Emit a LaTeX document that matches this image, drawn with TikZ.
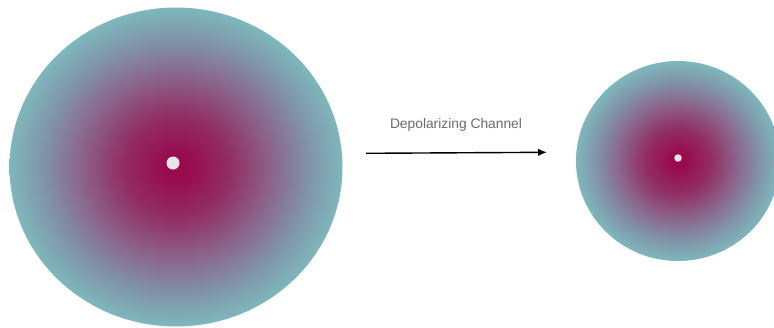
\documentclass[tikz,border=0pt]{standalone}
\usepackage{fontspec}
\setmainfont{Liberation Sans}
\usetikzlibrary{shapes.geometric,arrows.meta}
\definecolor{crim}{HTML}{980C4E}
\definecolor{crimb}{HTML}{912E62}
\definecolor{midc}{HTML}{8A6A8F}
\definecolor{bluec}{HTML}{8094A8}
\definecolor{tealc}{HTML}{7EB7BC}
\definecolor{dotc}{HTML}{E6E6E6}
\definecolor{labc}{HTML}{6A6A6A}
\pgfdeclareradialshading{blob}{\pgfpoint{0bp}{0bp}}{color(0bp)=(crim); color(2bp)=(crim); color(8bp)=(crimb); color(15bp)=(midc); color(20bp)=(bluec); color(25bp)=(tealc); color(50bp)=(tealc)}
\tikzset{
  blobshape/.style={ellipse, draw=none, shading=blob, inner sep=0pt},
  centerdot/.style={circle, fill=dotc, inner sep=0pt},
  lab/.style={font=\fontsize{13.8pt}{16pt}\selectfont, text=labc},
  conn/.style={line width=1.4pt, -{Latex[length=9pt,width=7.5pt]}}
}
\begin{document}
\begin{tikzpicture}[x=1pt,y=-1pt]
\useasboundingbox (0,0) rectangle (774,327);
\node[blobshape, minimum width=333pt, minimum height=319pt] (big) at (176,167) {};
\node[centerdot, minimum size=13pt] (bigdot) at (173,163) {};
\node[blobshape, minimum width=204pt, minimum height=200pt] (small) at (678,161) {};
\node[centerdot, minimum size=7.5pt] (smalldot) at (678,158) {};
\coordinate (a) at (366,153.3);
\coordinate (b) at (547,152.3);
\draw[conn] (a) -- (b);
\node[lab, anchor=base] (label) at (456,128) {Depolarizing Channel};
\end{tikzpicture}
\end{document}
